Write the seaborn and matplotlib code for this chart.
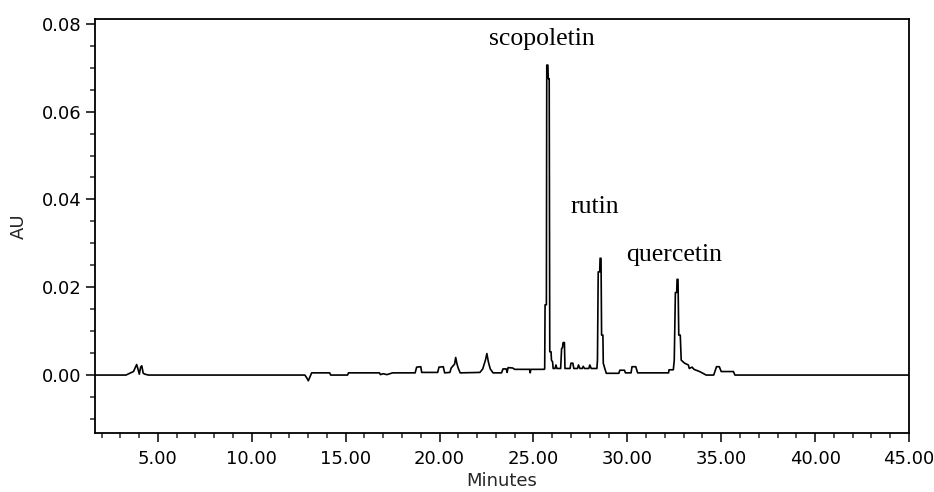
import matplotlib
matplotlib.use("Agg")
import matplotlib.pyplot as plt
from matplotlib.ticker import MultipleLocator, FormatStrFormatter
import seaborn as sns
import pandas as pd

# chromatogram trace (minutes, AU)
minutes = [
    1.65, 3.30, 3.50, 3.70, 3.87, 3.95, 4.01, 4.08, 4.14, 4.22, 4.31, 4.50,
    12.83, 12.95, 13.01, 13.10, 13.19, 14.15, 14.20, 15.10, 15.15, 16.80,
    16.85, 17.00, 17.20, 17.50, 18.70, 18.78, 19.00, 19.05, 19.90, 19.97,
    20.20, 20.27, 20.55, 20.62, 20.80, 20.86, 20.93, 21.00, 21.10, 22.15,
    22.30, 22.45, 22.52, 22.60, 22.70, 22.85, 23.30, 23.38, 23.55, 23.60,
    23.65, 23.90, 24.00, 24.80, 24.83, 24.86, 25.58,
    # scopoletin
    25.60, 25.62, 25.69, 25.71, 25.77, 25.79, 25.84, 25.87, 25.94, 25.96,
    26.02, 26.05, 26.15, 26.20, 26.25, 26.45, 26.50, 26.55, 26.58, 26.65,
    26.68, 26.95, 27.00, 27.10, 27.15, 27.35, 27.40, 27.48, 27.60, 27.65,
    27.72, 27.95, 28.00, 28.08, 28.38,
    # rutin
    28.41, 28.45, 28.53, 28.55, 28.60, 28.63, 28.70, 28.72, 28.80, 28.88,
    29.55, 29.60, 29.85, 29.90, 30.20, 30.25, 30.45, 30.55, 32.20, 32.22,
    32.45,
    # quercetin
    32.50, 32.56, 32.63, 32.65, 32.70, 32.74, 32.82, 32.87, 33.05, 33.25,
    33.30, 33.45, 33.55, 33.85, 34.20, 34.60, 34.75, 34.90, 35.00, 35.65,
    35.73, 45.00,
]
au = [
    0.0000, 0.0000, 0.0004, 0.0008, 0.0024, 0.0012, 0.0002, 0.0018, 0.0021, 0.0004, 0.0002, 0.0000,
    0.0000, -0.0008, -0.0013, -0.0004, 0.0005, 0.0005, 0.0000, 0.0000, 0.0005, 0.0005,
    0.0001, 0.0003, 0.0001, 0.0005, 0.0005, 0.0018, 0.0019, 0.0006, 0.0006, 0.0018,
    0.0019, 0.0005, 0.0006, 0.0016, 0.0025, 0.0040, 0.0025, 0.0015, 0.0005, 0.0006,
    0.0014, 0.0035, 0.0049, 0.0030, 0.0014, 0.0005, 0.0005, 0.0014, 0.0014, 0.0006,
    0.0017, 0.0016, 0.0013, 0.0013, 0.0005, 0.0013, 0.0013,
    0.0015, 0.0160, 0.0160, 0.0706, 0.0706, 0.0675, 0.0675, 0.0053, 0.0053, 0.0034,
    0.0030, 0.0015, 0.0015, 0.0023, 0.0015, 0.0015, 0.0060, 0.0063, 0.0074, 0.0074,
    0.0015, 0.0015, 0.0027, 0.0027, 0.0015, 0.0015, 0.0023, 0.0015, 0.0015, 0.0020,
    0.0015, 0.0015, 0.0023, 0.0015, 0.0015,
    0.0034, 0.0235, 0.0235, 0.0266, 0.0266, 0.0091, 0.0091, 0.0027, 0.0015, 0.0004,
    0.0004, 0.0011, 0.0011, 0.0005, 0.0005, 0.0019, 0.0019, 0.0005, 0.0005, 0.0012,
    0.0012,
    0.0034, 0.0188, 0.0188, 0.0218, 0.0218, 0.0091, 0.0091, 0.0034, 0.0027, 0.0023,
    0.0015, 0.0018, 0.0013, 0.0008, 0.0000, 0.0000, 0.0019, 0.0019, 0.0008, 0.0008,
    0.0000, 0.0000,
]

peak_names = ["scopoletin", "rutin", "quercetin"]
label_x = [22.63, 27.00, 29.92]
label_y = [0.0752, 0.0369, 0.0260]

df = pd.DataFrame({"Minutes": minutes, "AU": au})

sns.set_style("ticks")
plt.rcParams["font.family"] = ["DejaVu Sans"]

fig = plt.figure(figsize=(9.34, 4.92), dpi=100)
ax = fig.add_axes([0.1017, 0.1199, 0.8715, 0.8415])

sns.lineplot(data=df, x="Minutes", y="AU", ax=ax, sort=False, estimator=None,
             color="black", linewidth=1.2)

ax.set_xlim(1.65, 45.0)
ax.set_ylim(-0.0132, 0.0811)
ax.xaxis.set_major_locator(MultipleLocator(5))
ax.xaxis.set_minor_locator(MultipleLocator(1))
ax.yaxis.set_major_locator(MultipleLocator(0.02))
ax.yaxis.set_minor_locator(MultipleLocator(0.005))
ax.xaxis.set_major_formatter(FormatStrFormatter("%.2f"))
ax.yaxis.set_major_formatter(FormatStrFormatter("%.2f"))

ax.tick_params(which="major", length=6.5, width=1.1, labelsize=13, colors="black")
ax.tick_params(which="minor", length=3.5, width=1.1)
ax.tick_params(axis="x", which="major", pad=5.5)
ax.tick_params(axis="y", which="major", pad=3)

for side in ["left", "right", "top", "bottom"]:
    ax.spines[side].set_visible(True)
    ax.spines[side].set_color("black")
    ax.spines[side].set_linewidth(1.3)

ax.set_xlabel("Minutes", fontsize=13, labelpad=3)
ax.set_ylabel("AU", fontsize=13, labelpad=10)

for name, lx, ly in zip(peak_names, label_x, label_y):
    ax.text(lx, ly, name, family="Liberation Serif", fontsize=18.5,
            ha="left", va="baseline", color="black")

fig.savefig("out.png", dpi=100)
